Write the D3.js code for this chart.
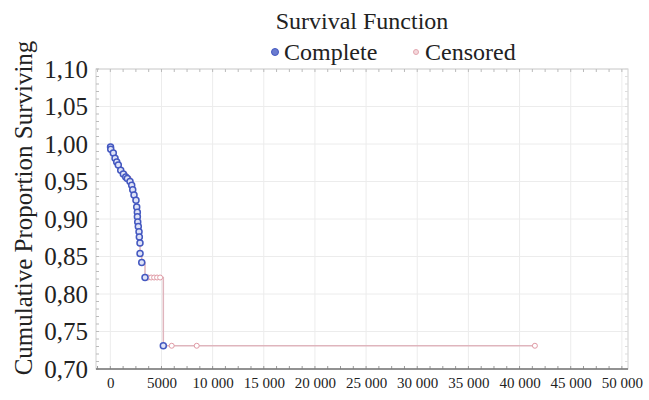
<!DOCTYPE html>
<html>
<head>
<meta charset="utf-8">
<script src="https://cdn.jsdelivr.net/npm/d3@7"></script>
<style>
  body { margin: 0; background: #fff; }
  text { font-family: "Liberation Serif", "DejaVu Serif", serif; }
</style>
</head>
<body>
<div id="graph"></div>
<script>
// complete (event) observations: time, cumulative proportion surviving
var completeTime = [20, 40, 290, 460, 625, 780, 1015, 1270, 1505, 1660, 1925, 2090, 2190, 2315, 2510, 2580, 2640, 2645, 2680, 2735, 2805, 2835, 2900, 2905, 3070, 3390, 5180];
var completeSurv = [0.996, 0.993, 0.988, 0.981, 0.976, 0.972, 0.965, 0.960, 0.956, 0.954, 0.950, 0.945, 0.939, 0.932, 0.925, 0.916, 0.909, 0.903, 0.896, 0.890, 0.883, 0.876, 0.868, 0.854, 0.842, 0.822, 0.731];

// censored observations
var censoredTime = [1400, 1800, 2450, 3695, 3990, 4280, 4570, 4865, 6000, 8445, 41500];
var censoredSurv = [0.960, 0.954, 0.925, 0.822, 0.822, 0.822, 0.822, 0.822, 0.731, 0.731, 0.731];

var xTicks = [0, 5000, 10000, 15000, 20000, 25000, 30000, 35000, 40000, 45000, 50000];
var yTicks = [0.70, 0.75, 0.80, 0.85, 0.90, 0.95, 1.00, 1.05, 1.10];

var W = 649, H = 400;
var pLeft = 96, pRight = 628, pTop = 69, pBottom = 369;

var svg = d3.select('#graph').append('svg')
    .attr('width', W)
    .attr('height', H)
    .style('background', '#fff');

var x = d3.scaleLinear().domain([-1400, 50600]).range([pLeft, pRight]);
var y = d3.scaleLinear().domain([0.70, 1.10]).range([pBottom, pTop]);

// grid
svg.append("g").selectAll("line").data(xTicks).enter().append("line")
    .attr("x1", function(d){ return x(d) }).attr("x2", function(d){ return x(d) })
    .attr("y1", pTop).attr("y2", pBottom)
    .style("stroke", "#ececec").style("stroke-width", 1);
svg.append("g").selectAll("line").data(yTicks).enter().append("line")
    .attr("x1", pLeft).attr("x2", pRight)
    .attr("y1", function(d){ return y(d) }).attr("y2", function(d){ return y(d) })
    .style("stroke", "#ececec").style("stroke-width", 1);

// frame
svg.append("rect")
    .attr("x", pLeft).attr("y", pTop)
    .attr("width", pRight - pLeft).attr("height", pBottom - pTop)
    .style("fill", "none").style("stroke", "#cfcfcf").style("stroke-width", 1);

// minor ticks
var xMinor = d3.range(-1250, 50600, 1250);
var yMinor = d3.range(0.70, 1.1001, 0.01);
svg.append("g").selectAll("line").data(xMinor).enter().append("line")
    .attr("x1", function(d){ return x(d) }).attr("x2", function(d){ return x(d) })
    .attr("y1", pBottom).attr("y2", pBottom - 3)
    .style("stroke", "#999");
svg.append("g").selectAll("line").data(xMinor).enter().append("line")
    .attr("x1", function(d){ return x(d) }).attr("x2", function(d){ return x(d) })
    .attr("y1", pTop).attr("y2", pTop + 3)
    .style("stroke", "#bbb");
svg.append("g").selectAll("line").data(yMinor).enter().append("line")
    .attr("x1", pLeft).attr("x2", pLeft + 3)
    .attr("y1", function(d){ return y(d) }).attr("y2", function(d){ return y(d) })
    .style("stroke", "#bbb");
svg.append("g").selectAll("line").data(yMinor).enter().append("line")
    .attr("x1", pRight).attr("x2", pRight - 3)
    .attr("y1", function(d){ return y(d) }).attr("y2", function(d){ return y(d) })
    .style("stroke", "#ddd");

// bottom axis line
svg.append("line")
    .attr("x1", pLeft).attr("x2", pRight).attr("y1", pBottom).attr("y2", pBottom)
    .style("stroke", "#777").style("stroke-width", 1.5);

// axes labels
var xFmt = function(d){
    if (d >= 10000) return d3.format(",")(d).replace(/,/g, " ");
    return String(d);
};
svg.append("g")
    .attr("transform", "translate(0," + pBottom + ")")
    .call(d3.axisBottom(x).tickValues(xTicks).tickSize(0).tickPadding(8).tickFormat(xFmt))
    .call(function(g){ g.select(".domain").remove() })
    .selectAll("text")
    .style("font-family", "Liberation Serif")
    .style("font-size", "15px")
    .style("fill", "#222");

svg.append("g")
    .attr("transform", "translate(" + pLeft + ",0)")
    .call(d3.axisLeft(y).tickValues(yTicks).tickSize(0).tickPadding(8)
        .tickFormat(function(d){ return d3.format(".2f")(d).replace(".", ",") }))
    .call(function(g){ g.select(".domain").remove() })
    .selectAll("text")
    .style("font-family", "Liberation Serif")
    .style("font-size", "25px")
    .style("fill", "#222");

svg.append("text")
    .attr("transform", "translate(32,208) rotate(-90)")
    .attr("text-anchor", "middle")
    .style("font-size", "25px")
    .style("fill", "#222")
    .text("Cumulative Proportion Surviving");

// title + legend
svg.append("text")
    .attr("x", 362).attr("y", 29)
    .attr("text-anchor", "middle")
    .style("font-size", "24px")
    .style("fill", "#222")
    .text("Survival Function");

svg.append("circle").attr("cx", 275).attr("cy", 52).attr("r", 3.5)
    .style("fill", "#6a7bd0").style("stroke", "#4458c0");
svg.append("text").attr("x", 284).attr("y", 60)
    .style("font-size", "24px").style("fill", "#222").text("Complete");
svg.append("circle").attr("cx", 416).attr("cy", 52).attr("r", 2.5)
    .style("fill", "#f4d8dc").style("stroke", "#e3a7b0");
svg.append("text").attr("x", 425).attr("y", 60)
    .style("font-size", "24px").style("fill", "#222").text("Censored");

// step line through all observations
var all = [];
for (var i = 0; i < completeTime.length; i++) all.push({t: completeTime[i], s: completeSurv[i]});
for (var j = 0; j < censoredTime.length; j++) all.push({t: censoredTime[j], s: censoredSurv[j]});
all.sort(function(a, b){ return a.t - b.t });

var line = d3.line()
    .x(function(d){ return x(d.t) })
    .y(function(d){ return y(d.s) })
    .curve(d3.curveStepAfter);

svg.append("path")
    .datum(all)
    .attr("d", line)
    .style("fill", "none")
    .style("stroke", "#dfb5bd")
    .style("stroke-width", 1.5);

// censored markers
svg.append("g").selectAll("circle")
    .data(censoredTime).enter().append("circle")
    .attr("cx", function(d){ return x(d) })
    .attr("cy", function(d, i){ return y(censoredSurv[i]) })
    .attr("r", 2.5)
    .style("fill", "#fff")
    .style("stroke", "#e09aa5")
    .style("stroke-width", 1);

// complete markers
svg.append("g").selectAll("circle")
    .data(completeTime).enter().append("circle")
    .attr("cx", function(d){ return x(d) })
    .attr("cy", function(d, i){ return y(completeSurv[i]) })
    .attr("r", 3)
    .style("fill", "#dfe3f7")
    .style("stroke", "#4458c0")
    .style("stroke-width", 1.5);
</script>
</body>
</html>
